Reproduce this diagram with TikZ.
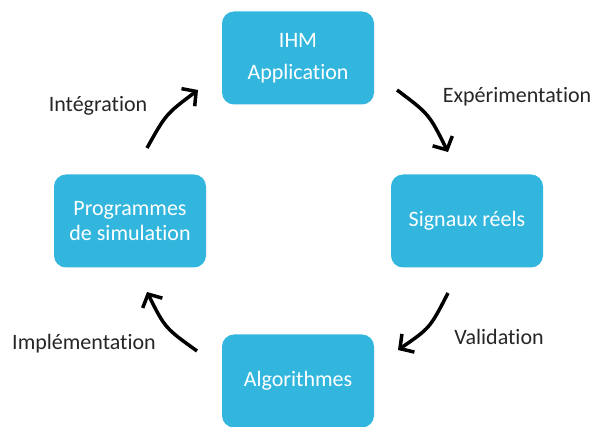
\documentclass[tikz,border=0pt]{standalone}
\usepackage{fontspec}
\setmainfont{Carlito}[Ligatures=NoCommon]
\usepackage{tikz}
\usetikzlibrary{arrows.meta}
\definecolor{boxblue}{RGB}{50,182,222}

\begin{document}
\begin{tikzpicture}[x=1pt,y=-1pt,
  etape/.style={draw=none,fill=boxblue,rounded corners=12pt,minimum width=152pt,
    minimum height=93pt,text=white,align=center,font=\fontsize{22}{25}\selectfont},
  lbl/.style={font=\fontsize{22}{26}\selectfont,text=black!85},
  fleche/.style={line width=3.5pt,-{Straight Barb[length=10pt,width=22pt]}}]
  \useasboundingbox (0,0) rectangle (594,427);
  \node[etape] (ihm) at (298,58) {IHM\\[7pt]Application};
  \node[etape] (signaux) at (467,221) {Signaux réels};
  \node[etape] (algo) at (298,381) {Algorithmes};
  \node[etape] (prog) at (130,221) {Programmes\\de simulation};
  % ends of the arrows
  \coordinate (a1) at (147,148); \coordinate (b1) at (198,90);
  \coordinate (a2) at (397,90);  \coordinate (b2) at (448,152);
  \coordinate (a3) at (448,293); \coordinate (b3) at (398,350);
  \coordinate (a4) at (197,351); \coordinate (b4) at (147,292);
  \draw[fleche] (a1) .. controls (166,114) .. (b1);
  \draw[fleche] (a2) .. controls (429,114) .. (b2);
  \draw[fleche] (a3) .. controls (430,328) .. (b3);
  \draw[fleche] (a4) .. controls (165,328) .. (b4);
  \node[lbl] (integ) at (98,106) {Intégration};
  \node[lbl] (exper) at (517,97) {Expérimentation};
  \node[lbl] (valid) at (499,337) {Validation};
  \node[lbl] (impl) at (84,344) {Implémentation};
\end{tikzpicture}
\end{document}
